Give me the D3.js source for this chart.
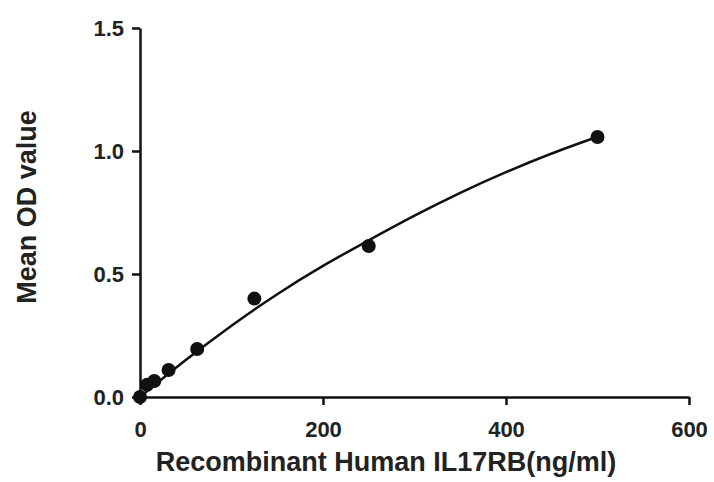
<!DOCTYPE html>
<html>
<head>
<meta charset="utf-8">
<script src="https://cdn.jsdelivr.net/npm/d3@7"></script>
<style>
  body { margin: 0; background: #fff; }
  svg { display: block; font-family: "Liberation Sans", Arial, sans-serif; }
</style>
</head>
<body>
<div id="chart"></div>
<script>
// measured standards
const conc = [0, 7.8, 15.6, 31.25, 62.5, 125, 250, 500]
const meanOD = [0.0, 0.05, 0.065, 0.11, 0.195, 0.40, 0.614, 1.057]

// fitted curve
const curveX = [0, 50, 100, 150, 200, 250, 300, 350, 400, 450, 500]
const curveY = [0, 0.15, 0.29, 0.418, 0.533, 0.637, 0.737, 0.83, 0.914, 0.99, 1.058]

const xTicks = [0, 200, 400, 600]
const yTicks = [0, 0.5, 1.0, 1.5]

const W = 714, H = 482
const margin = { top: 28, right: 25, bottom: 85, left: 140 }

const svg = d3.select('#chart').append('svg')
    .attr('width', W)
    .attr('height', H)

const x = d3.scaleLinear().domain([0, 600]).range([margin.left, W - margin.right])
const y = d3.scaleLinear().domain([0, 1.5]).range([H - margin.bottom, margin.top])

// axes
const xAxis = svg.append('g')
    .attr('transform', `translate(0,${H - margin.bottom})`)
    .call(d3.axisBottom(x).tickValues(xTicks).tickFormat(d3.format('d')).tickSize(8).tickSizeOuter(0))
const yAxis = svg.append('g')
    .attr('transform', `translate(${margin.left},0)`)
    .call(d3.axisLeft(y).tickValues(yTicks).tickFormat(d3.format('.1f')).tickSize(8).tickSizeOuter(0))

for (const ax of [xAxis, yAxis]) {
    ax.select('.domain').attr('stroke', '#111').attr('stroke-width', 2.5)
    ax.selectAll('.tick line').attr('stroke', '#111').attr('stroke-width', 2.5)
    ax.selectAll('.tick text')
        .attr('fill', '#222')
        .attr('font-size', 22)
        .attr('font-weight', 'bold')
        .attr('font-family', '"Liberation Sans", Arial, sans-serif')
}
xAxis.selectAll('.tick text').attr('y', 40).attr('dy', 0)
yAxis.selectAll('.tick text').attr('x', -16).attr('dy', '0.36em')

// fitted line
const line = d3.line()
    .x(d => x(d[0]))
    .y(d => y(d[1]))
    .curve(d3.curveNatural)

svg.append('path')
    .datum(d3.zip(curveX, curveY))
    .attr('d', line)
    .attr('fill', 'none')
    .attr('stroke', '#111')
    .attr('stroke-width', 2.5)

// points
svg.append('g')
    .selectAll('circle')
    .data(d3.zip(conc, meanOD))
    .join('circle')
        .attr('cx', d => x(d[0]))
        .attr('cy', d => y(d[1]))
        .attr('r', 7)
        .attr('fill', '#111')

// titles
svg.append('text')
    .attr('x', 386)
    .attr('y', 471)
    .attr('text-anchor', 'middle')
    .attr('font-size', 27)
    .attr('font-weight', 'bold')
    .attr('fill', '#222')
    .text('Recombinant Human IL17RB(ng/ml)')

svg.append('text')
    .attr('transform', `translate(36,207) rotate(-90)`)
    .attr('text-anchor', 'middle')
    .attr('font-size', 27)
    .attr('font-weight', 'bold')
    .attr('fill', '#222')
    .text('Mean OD value')
</script>
</body>
</html>
